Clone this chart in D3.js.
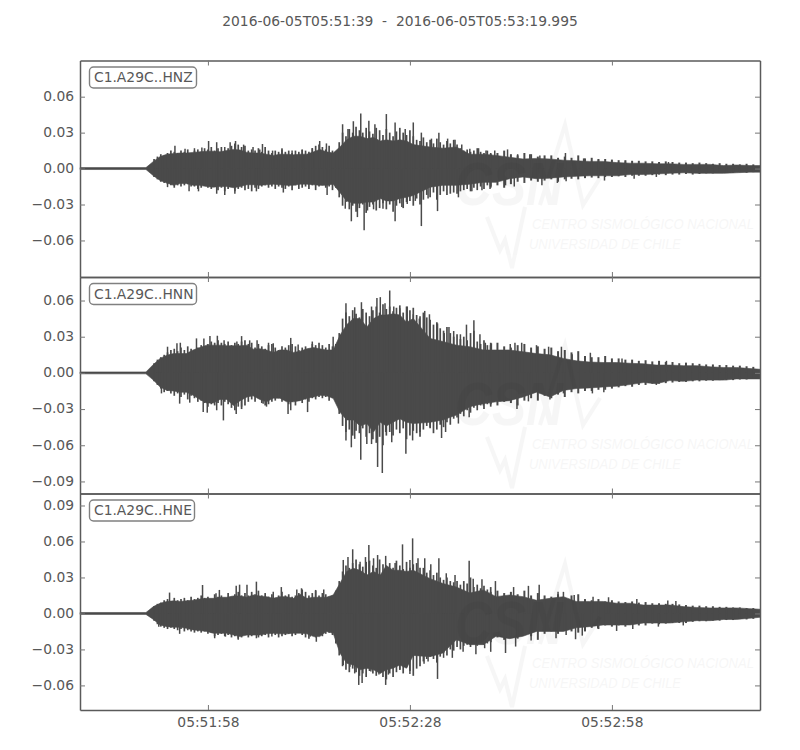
<!DOCTYPE html>
<html><head><meta charset="utf-8">
<script src="https://cdn.jsdelivr.net/npm/d3@7"></script>
<style>html,body{margin:0;padding:0;background:#fff}svg{display:block}text{font-family:"DejaVu Sans",sans-serif}</style>
</head><body><svg id="c" width="800" height="750"></svg>
<script>
const titleText = "2016-06-05T05:51:39  -  2016-06-05T05:53:19.995";
const traceNames = ["C1.A29C..HNZ","C1.A29C..HNN","C1.A29C..HNE"];
const xTickSeconds = [19,49,79];
const xTickLabels = ["05:51:58","05:52:28","05:52:58"];
const yTicksZ = [0.06,0.03,0,-0.03,-0.06];
const yTicksN = [0.06,0.03,0,-0.03,-0.06,-0.09];
const yTicksE = [0.09,0.06,0.03,0,-0.03,-0.06];
const yLimZ = [-0.0905,0.0902];
const yLimN = [-0.1,0.0795];
const yLimE = [-0.0805,0.1];
// envelope sample times, seconds after 05:51:39
const times = [0,9.8,10.9,11.9,12.9,13.9,14.9,15.8,16.8,17.8,18.8,19.8,20.8,21.8,22.8,23.8,24.8,25.7,26.7,27.7,28.7,29.7,30.7,31.7,32.7,33.7,34.7,35.6,36.6,37.6,38.6,39.6,40.6,41.6,42.6,43.6,44.6,45.5,46.5,47.5,48.5,49.5,52,53.9,55.9,57.9,59.9,61.8,63.8,65.8,67.8,69.8,71.8,73.7,75.7,77.7,79.7,81.7,83.7,85.6,87.6,89.6,91.6,93.6,95.6,97.5,99.5,101];
// envelopes in thousandths of the axis unit
const upZ = [.8,.8,6,10,12,12.5,13,13,13.5,14,14.5,14.5,14,15,16,15.5,13.5,13,13,12,11,12,12,11.5,12,12,14,16,14,13,18,24,27,27,25,26,23,24,23,24,23,20,18,17,18,12,12,11,9.5,8,8.5,8,7,6.5,6,6,5,4.5,4.5,4,4,3.5,3.5,3.5,2.5,3,2.5,2.5];
const loZ = [.8,.8,6,10,12,14,12.5,12.5,14,14,15,15.5,15,15,16,15,13.5,13.5,14,13.5,13,13.5,14,14,13,13,13.5,14,14,13,20,27,29,29,28,28,25,27,27,25,24,22.5,15.5,14,14,13,11.5,11.5,8.5,7,8.5,8,7,6.5,6,6,6,5,5,4.5,4,3.5,4,4,4,3.5,3,3];
const upN = [.8,.8,7,12,14.7,16,16,16,19,21,23,23,23,22.5,22.5,22.5,23,19.7,20,19,17,19,19,17,18,20,21,20,19,19,31,40,45,45,38,45,48,48,49,48,42,45,28.6,26,23,21.7,19,19,19,17.5,16,15,12,10,9,8.6,8.6,8,7.5,6.5,6.5,6,6,5,4.5,4.5,3.6,3];
const loN = [.8,.8,6,11.7,14.5,15,16,16,18.6,22,25,25,22,22,27,23,20,19,22,24,21,21,24,24,23,21,20,18.6,19,21,32.5,39,39,44,42,49,41,44,41,38,41,42,41,39,35,28,25.5,24,23,20,16,20,14.5,13,12.5,11.7,11,9.7,8,9,6.4,7,6,6,6,5,5,5];
const upE = [.8,.8,5.7,8.5,10,10.5,10,10.5,11,12,12.6,12.6,13.5,13.5,14.6,14.6,13.5,15.4,14.6,14,12.6,14,14,12.6,16,12.6,13.5,13.5,13.5,15.4,25,35,37.6,36,32,35,32,40,36,36,35,36,29,25,22,17,19.6,14,15.4,14,11,12.6,14,10,10,10,8.5,8.5,7,7,7,5.7,5,4.6,4.6,4.6,4,3.5];
const loE = [.8,.8,5,9.6,11,11.5,11.5,12.4,13.7,14.3,15,16.5,16.5,16.5,18,19.3,18,18,18,17,16.5,17,17,16.5,16.5,17,19.3,19.3,15,16.5,33,41.5,43,47,45.7,47,50,47,45.7,43,45.7,35,36,33,22,26,26,19,21,19,15,15,15,12,11,9.6,9.6,9.6,8,8,8,7,6,6,5,5,4,3.2];
// half-second amplitudes from 11 s to 60 s
const fineUpZ = [8,10,12,11,13,15,14,13,15,14,16,13,15,16,14,17,16,18,15,17,18,15,17,19,21,20,18,19,15,16,15,17,14,18,15,13,15,14,16,14,15,13,15,14,16,15,14,17,19,20,18,16,19,15,14,22,30,27,33,30,35,32,30,34,31,29,34,32,28,33,30,27,31,34,30,28,32,27,24,23,26,22,24,21,25,22,20,23,21,24,20,17,15,16,14,15,17,14,13,15,13];
const fineLoZ = [7,9,11,12,13,14,16,14,15,14,13,15,15,17,16,14,16,17,15,18,16,19,17,15,19,17,16,18,17,19,16,17,15,14,16,15,17,15,16,17,15,18,14,17,16,15,17,14,18,15,14,16,15,18,16,24,31,28,34,31,36,33,30,37,32,30,35,33,29,34,30,36,31,29,33,28,27,31,25,30,26,22,24,20,26,22,19,22,21,20,21,19,18,17,19,16,18,15,17,14,16];
const fineUpN = [8,11,13,15,17,19,20,18,21,19,22,20,18,21,23,22,24,26,25,27,25,24,26,23,25,24,26,27,24,25,21,24,22,20,23,24,21,19,22,21,23,24,22,19,21,22,20,24,23,25,23,21,24,22,24,33,45,50,47,52,49,46,53,50,47,52,55,50,57,53,55,51,54,56,50,55,52,54,48,47,50,46,44,40,42,37,35,38,33,30,32,28,30,27,33,35,26,24,27,23,25];
const fineLoN = [7,10,13,16,15,17,19,17,20,18,22,19,21,24,23,25,28,26,27,25,27,24,26,29,31,28,30,27,24,22,24,21,25,27,26,24,23,21,24,22,26,24,27,23,25,22,24,21,22,20,21,20,23,21,24,34,44,49,47,52,48,50,46,53,50,55,58,53,60,52,49,52,47,50,46,55,52,48,50,53,47,44,46,50,47,43,45,41,43,38,37,34,36,31,33,29,31,27,30,26,28];
const fineUpE = [6,8,9,11,12,10,13,11,12,13,11,14,12,13,15,13,14,12,16,14,15,13,17,14,16,18,15,17,15,18,16,19,15,17,14,16,13,15,18,15,16,14,15,17,20,18,15,17,19,15,17,16,14,15,19,27,35,40,38,42,45,41,39,43,44,40,38,45,41,38,42,38,44,40,37,43,38,41,42,38,38,34,36,32,34,30,28,30,27,26,27,24,27,25,30,22,24,21,23,20,22];
const fineLoE = [6,9,11,12,13,12,13,14,13,15,14,15,16,15,16,15,17,16,19,18,17,19,18,20,19,21,20,18,20,19,18,20,19,18,20,17,18,20,19,18,17,19,18,16,18,20,21,18,20,18,19,17,16,18,25,35,44,47,49,46,49,52,50,53,48,50,52,49,53,55,50,53,49,47,50,45,48,52,46,44,40,38,36,38,41,36,33,35,30,31,28,30,27,26,28,25,27,24,26,25,22];
// one-second amplitudes from 61 s to 100 s
const tailUpZ = [12,13,15,12,11,13,12,10,11,11,9,10,9,11,8.5,9,8,8,7.5,7,7,6.5,6.5,6,6,5.5,6,5.5,5,5,4.5,5,4.5,4,4.5,4,4,3.5,4,3.5];
const tailLoZ = [15,14,16,13,11,12,10,11,10,9,11,9,8.5,9,8,7.5,8,7,7,6.5,7,6,6,6,5.5,5,5.5,5,5,4.5,5,4.5,4,4,3.5,3.5,3.5,3,3.5,3];
const tailUpN = [23,25,22,21,23,24,21,22,20,21,18,19,17,18,14,13,13,14,12,12,11,11,10,10.5,9.5,10,9,9,8,8.5,8,7.5,7,7,6.5,6.5,6,6,5.5,5];
const tailLoN = [26,27,24,25,27,23,21,23,19,21,18,20,16,17,15,15,14,14,13,12,11,11.5,10,10,9,9,8.5,8,7.5,7.5,7,7,6.5,6.5,6,6,6,5.5,5.5,5];
const tailUpE = [18,19,17,18,16,19,15,17,15,14,16,13,15,16,12,11,12,10,11,10,9.5,10,9,9.5,8.5,8.5,8,8,7.5,7,6.5,6.5,6,6,5.5,5.5,5,5,4.5,4.5];
const tailLoE = [24,20,22,19,21,18,19,22,17,15,17,14,15,16,15,12,13,10,11,10,11,9,10,10,8.5,9,8.5,8,8,8,7,6.5,6.5,6,6,5.5,5.5,4.5,5,4.5];
// individual excursions [seconds, thousandths] above and below zero
const peaksUpZ = [[14.1,19],[15.6,16.5],[17,17],[18.1,17.5],[19.1,23],[20.3,22],[21.5,18],[22.3,22],[23.1,23],[24.3,20],[25.7,18],[26.7,16],[27.1,20.5],[28.6,15],[30,17],[31.5,15],[33,15.5],[34.5,17],[35.6,23],[36.6,21],[39,37],[39.8,33],[40.6,39.5],[41.7,46],[42.9,40],[43.8,37],[45.5,45.5],[46.8,38.5],[48.3,33],[49.5,38.5],[50.7,30],[52.2,25],[53.3,30],[54.6,25],[55.7,24],[56.7,20],[57.9,16.5],[59.2,17],[60.3,15],[61.6,15],[63.5,16],[65,12],[66.8,12],[68.3,11],[72.1,13],[74.8,8.5],[77,7.5],[81,6],[87.4,5.5]];
const peaksLoZ = [[13,15.5],[16.2,19],[17.6,19],[20.3,21],[21.5,22],[23,21],[26.2,19],[30.2,20],[36.7,22],[39.4,33.5],[40.3,44],[41.2,40.5],[42.2,51.5],[42.7,35],[43.6,34],[45,33.5],[46.8,44],[47.8,32],[48.6,29.5],[49.8,27],[50.7,48],[51.7,25],[53.1,35.5],[56.2,24],[58.2,19],[59.7,18],[60.9,17],[63.2,14],[64.5,15],[68.6,14],[70.9,12],[72.2,10.5],[77.9,10],[82.3,8.5],[85.6,7]];
const peaksUpN = [[13,21.7],[14.4,24.5],[14.9,25],[17.3,28.6],[18.4,28.6],[19.3,30.5],[20.4,30.8],[21.4,27],[23.3,26],[24,30.5],[25.2,27],[26.3,27],[28,25],[28.7,24.5],[31.3,29],[32.4,23.6],[34.5,26],[37.6,30],[39.5,57.8],[40.8,54.4],[41.8,58.6],[43.3,55],[44.1,62],[44.6,62.8],[45.3,57.8],[46,68.3],[46.6,55],[47.5,53.6],[48.6,55],[49.5,48.6],[50.4,45],[51.2,51.4],[51.9,48.6],[53.1,41],[54.1,33],[54.8,38],[55.5,34.7],[56.5,32],[57.4,40],[58.5,43.6],[59.4,32],[60.2,25],[61.1,24.5],[63.9,24],[64.6,25],[65.6,25],[67.8,23],[69.6,21.7],[71.5,21.7],[73.1,15.5],[75.8,16.7],[80.5,12],[87.1,10]];
const peaksLoN = [[12.1,17],[14.8,25.5],[16.3,24.7],[18.3,32.5],[18.9,33],[20.3,31],[21.3,39.4],[23.2,34],[24,28],[27.2,25.5],[27.7,28],[30.9,34],[31.3,31],[33.8,32.5],[39,34],[39.5,56],[40.3,61.7],[40.8,54.7],[41.7,72],[42.6,59],[43.3,59],[44.2,78],[44.9,83],[45.4,49],[46.3,57.5],[48.4,67],[49.4,56],[50.5,49],[52,45],[53.7,54],[54.3,49],[56.2,42],[57.8,36.7],[59.9,27],[62.4,23.6],[64.9,30],[66.6,23.6],[69.8,22],[71.8,17],[76.1,17],[77.8,16],[85.6,10]];
const peaksUpE = [[13.3,17.4],[18.2,23.7],[20.2,16.8],[20.7,19.6],[23.2,23],[23.7,24],[24.8,24],[26.2,26.5],[28.7,18],[29.9,22],[32.2,20],[32.9,21],[35,19.6],[36.2,20],[39.1,44.6],[39.8,47],[40.5,53.5],[41.6,43],[42.4,47],[42.9,57],[43.6,46],[44.2,48.7],[45.4,48],[46.8,42],[47.9,57.6],[49,44.6],[49.4,62.6],[50.2,46],[51.2,46],[52.1,41],[53.3,46],[54.4,33.5],[55.7,32],[57.8,44],[58.4,29],[59.7,28.5],[61.7,27],[64.4,22],[66.6,23],[68.2,24],[71,18],[71.8,18],[73.4,15.4],[76.2,14],[78.5,13.5],[82.7,12],[87.3,10.7],[88.5,10.4]];
const peaksLoE = [[11.7,11],[14.8,17],[20,20.7],[21.6,19.3],[23.5,22],[26.2,20.7],[28.5,19.3],[34.2,19.3],[35.1,23.6],[39.1,43],[40.1,44.4],[40.8,50],[41.4,59.6],[41.9,58],[43.2,48.4],[44.4,51],[45.4,59.6],[45.8,51],[47.5,47],[49,50.4],[51.1,42],[51.7,40],[53.1,54.6],[54,37],[55.3,37],[56.9,32],[58.8,34],[60.1,29],[61,32],[63.2,33],[64.7,27.6],[67,22.6],[70.7,20.7],[72.2,18],[73.6,21.5],[74.6,18.5],[76.9,12.4],[79.7,14.6],[82.1,13],[85.9,11],[89.6,10]];

const ink = "#4a4a4a", textInk = "#585858", spine = "#5a5a5a", fs = 13.85;
const svg = d3.select("#c");
const fmt = v => (v<0?"\u2212":"")+Math.abs(v).toFixed(2);
const x = d3.scaleLinear().domain([0,100.995]).range([80,760]);
svg.append("text").attr("x",400).attr("y",26).attr("text-anchor","middle").attr("font-size",fs).attr("fill",textInk).style("white-space","pre").text(titleText);

const panels = [
 {top:60.5,bottom:277,lim:yLimZ,ticks:yTicksZ,up:upZ,lo:loZ,fu:fineUpZ,fl:fineLoZ,tu:tailUpZ,tl:tailLoZ,pu:peaksUpZ,pl:peaksLoZ,name:traceNames[0],logo:0},
 {top:277,bottom:493.5,lim:yLimN,ticks:yTicksN,up:upN,lo:loN,fu:fineUpN,fl:fineLoN,tu:tailUpN,tl:tailLoN,pu:peaksUpN,pl:peaksLoN,name:traceNames[1],logo:220},
 {top:493.5,bottom:710,lim:yLimE,ticks:yTicksE,up:upE,lo:loE,fu:fineUpE,fl:fineLoE,tu:tailUpE,tl:tailLoE,pu:peaksUpE,pl:peaksLoE,name:traceNames[2],logo:439}
];
panels.forEach((p,i)=>{
  const y = d3.scaleLinear().domain(p.lim).range([p.bottom,p.top]);
  const g = svg.append("g");
  const area = d3.area().x((d,k)=>x(times[k])).y0((d,k)=>y(-p.lo[k]/1000)).y1(d=>y(d/1000));
  g.append("path").datum(p.up).attr("fill",ink).attr("stroke",ink).attr("stroke-width",.6).attr("d",area);
  const bars = (arr,t0,dt,sign,w) => g.append("g").selectAll("line").data(arr).join("line")
    .attr("x1",(d,k)=>x(t0+k*dt)).attr("x2",(d,k)=>x(t0+k*dt)).attr("y1",y(0)).attr("y2",d=>y(sign*d/1000)).attr("stroke",ink).attr("stroke-width",w);
  bars(p.fu,11,.5,1,1.7); bars(p.fl,11,.5,-1,1.7);
  bars(p.tu,61,1,1,2); bars(p.tl,61,1,-1,2);
  [[p.pu,1],[p.pl,-1]].forEach(([arr,s])=>g.append("g").selectAll("line").data(arr).join("line")
    .attr("x1",d=>x(d[0])).attr("x2",d=>x(d[0])).attr("y1",y(0)).attr("y2",d=>y(s*d[1]/1000)).attr("stroke",ink).attr("stroke-width",1.5));
  // faint watermark lying over the trace
  const wm = g.append("g").attr("transform",`translate(0,${p.logo})`).attr("fill","#000").attr("opacity",.03);
  wm.append("text").attr("x",455).attr("y",205).attr("font-size",62).attr("font-weight","bold").attr("font-style","italic").style("font-family","Liberation Sans").attr("textLength",108).attr("lengthAdjust","spacingAndGlyphs").text("CSN");
  wm.append("path").attr("fill","none").attr("stroke","#000").attr("stroke-width",4).attr("d","M540,205L565,125L583,205L600,178");
  wm.append("path").attr("fill","none").attr("stroke","#000").attr("stroke-width",4).attr("d","M487,217L500,250L505,240L512,268L525,207");
  wm.append("text").attr("x",532).attr("y",229).attr("font-size",15).attr("font-style","italic").style("font-family","Liberation Sans").attr("textLength",222).attr("lengthAdjust","spacingAndGlyphs").text("CENTRO SISMOLÓGICO NACIONAL");
  wm.append("text").attr("x",529).attr("y",249).attr("font-size",15).attr("font-style","italic").style("font-family","Liberation Sans").attr("textLength",152).attr("lengthAdjust","spacingAndGlyphs").text("UNIVERSIDAD DE CHILE");
  const left = g.append("g").attr("transform",`translate(${x.range()[0]},0)`).call(d3.axisLeft(y).tickValues(p.ticks).tickFormat(fmt).tickSizeInner(-5).tickSizeOuter(0).tickPadding(6));
  const right = g.append("g").attr("transform",`translate(${x.range()[1]},0)`).call(d3.axisRight(y).tickValues(p.ticks).tickFormat("").tickSizeInner(-5).tickSizeOuter(0));
  const top = g.append("g").attr("transform",`translate(0,${p.top})`).call(d3.axisTop(x).tickValues(xTickSeconds).tickFormat("").tickSizeInner(-5).tickSizeOuter(0));
  const bot = g.append("g").attr("transform",`translate(0,${p.bottom})`).call(d3.axisBottom(x).tickValues(xTickSeconds).tickFormat(i===2?((d,k)=>xTickLabels[k]):"").tickSizeInner(-5).tickSizeOuter(0).tickPadding(7));
  [left,right,top,bot].forEach(a=>{a.selectAll("path.domain").attr("stroke",spine).attr("stroke-width",1.5);a.selectAll("line").attr("stroke","#777");a.selectAll("text").attr("font-size",fs).attr("fill",textInk).style("font-family","DejaVu Sans");});
  left.selectAll("text").attr("dy","0.28em");
  const ly = p.top+6.5;
  g.append("rect").attr("x",89.5).attr("y",ly).attr("width",i===2?105:107).attr("height",21).attr("rx",4).attr("fill","#fff").attr("stroke","#808080").attr("stroke-width",1.4);
  g.append("text").attr("x",94).attr("y",ly+15).attr("font-size",fs).attr("fill",textInk).text(p.name);
});
</script></body></html>
